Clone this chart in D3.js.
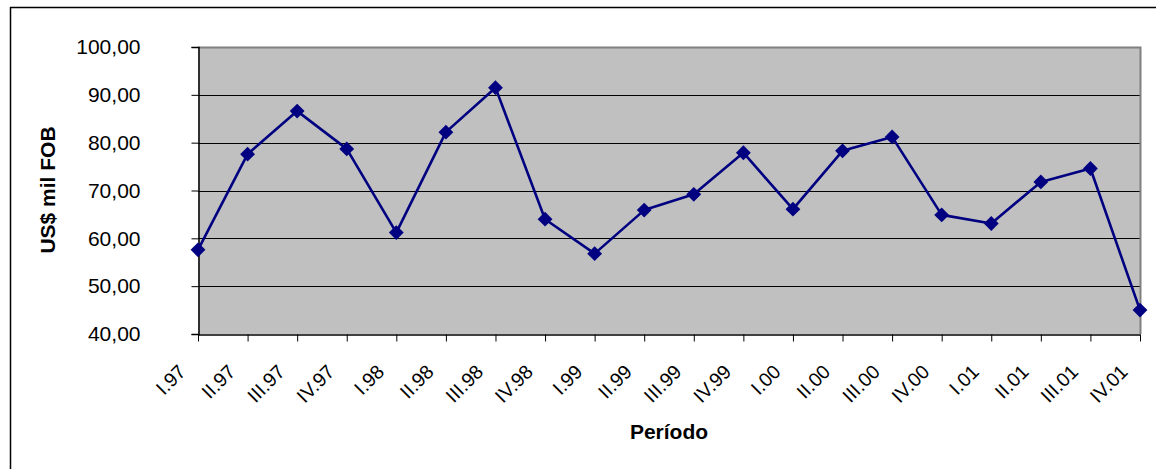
<!DOCTYPE html>
<html>
<head>
<meta charset="utf-8">
<script src="https://cdn.jsdelivr.net/npm/d3@7"></script>
<style>
  html, body { margin: 0; padding: 0; background: #fff; }
  svg { display: block; font-family: "Liberation Sans", Arial, sans-serif; }
</style>
</head>
<body>
<svg id="chart" width="1156" height="469"></svg>
<script>
// Quarterly periods, 1997–2001
const categories = [
  "I.97", "II.97", "III.97", "IV.97",
  "I.98", "II.98", "III.98", "IV.98",
  "I.99", "II.99", "III.99", "IV.99",
  "I.00", "II.00", "III.00", "IV.00",
  "I.01", "II.01", "III.01", "IV.01"
];

// US$ thousand FOB per quarter
const values = [
  57.6, 77.6, 86.6, 78.7,
  61.2, 82.2, 91.5, 64.0,
  56.8, 65.9, 69.2, 77.9,
  66.1, 78.3, 81.2, 64.9,
  63.1, 71.8, 74.6, 45.0
];

const yTicks = [40, 50, 60, 70, 80, 90, 100];
const yTitle = "US$ mil FOB";
const xTitle = "Período";

const svg = d3.select("#chart");
const plot = { left: 198, right: 1140, top: 47, bottom: 334 };

const x = d3.scalePoint()
  .domain(categories)
  .range([plot.left, plot.right]);

const y = d3.scaleLinear()
  .domain([40, 100])
  .range([plot.bottom, plot.top]);

const fmt = v => d3.format(".2f")(v).replace(".", ",");

// Outer chart frame (open on the right and bottom edges)
svg.append("rect")
  .attr("x", 10.5).attr("y", 7.5)
  .attr("width", 1300).attr("height", 600)
  .attr("fill", "none")
  .attr("stroke", "#000")
  .attr("stroke-width", 1.5);

// Plot background
svg.append("rect")
  .attr("x", plot.left).attr("y", plot.top)
  .attr("width", plot.right - plot.left)
  .attr("height", plot.bottom - plot.top)
  .attr("fill", "#c0c0c0");

// Horizontal gridlines
svg.append("g")
  .selectAll("line")
  .data(yTicks.filter(t => t > 40 && t < 100))
  .join("line")
  .attr("x1", plot.left).attr("x2", plot.right)
  .attr("y1", d => Math.round(y(d)) + 0.5)
  .attr("y2", d => Math.round(y(d)) + 0.5)
  .attr("stroke", "#000")
  .attr("stroke-width", 1);

// Gray frame on top and right
svg.append("path")
  .attr("d", `M${plot.left},${plot.top + 0.5}H${plot.right + 0.5}V${plot.bottom}`)
  .attr("fill", "none")
  .attr("stroke", "#808080")
  .attr("stroke-width", 2);

// Y axis
const yAxis = svg.append("g")
  .attr("transform", `translate(${plot.left + 0.5},0)`)
  .call(d3.axisLeft(y).tickValues(yTicks).tickFormat(fmt).tickSize(7).tickPadding(51));
yAxis.select(".domain").attr("stroke", "#000").attr("stroke-width", 1.5);
yAxis.selectAll(".tick line").attr("stroke", "#000");
yAxis.selectAll(".tick text")
  .attr("font-size", 21)
  .attr("fill", "#000")
  .attr("font-family", "Liberation Sans, Arial, sans-serif");

// X axis (ticks from the axis generator, labels drawn slanted below)
const xAxis = svg.append("g")
  .attr("transform", `translate(0,${plot.bottom + 0.5})`)
  .call(d3.axisBottom(x).tickSize(7).tickSizeOuter(0).tickFormat(""));
xAxis.select(".domain").attr("stroke", "#000").attr("stroke-width", 1.5);
xAxis.selectAll(".tick line").attr("stroke", "#000");
xAxis.selectAll(".tick text").remove();

svg.append("g")
  .selectAll("text")
  .data(categories)
  .join("text")
  .attr("transform", d => `translate(${x(d) - 11},${plot.bottom + 39}) rotate(-45)`)
  .attr("text-anchor", "end")
  .attr("font-size", 19.5)
  .attr("fill", "#000")
  .text(d => d);

// Series line
svg.append("path")
  .datum(values)
  .attr("fill", "none")
  .attr("stroke", "#000080")
  .attr("stroke-width", 2.6)
  .attr("stroke-linejoin", "round")
  .attr("d", d3.line()
    .x((d, i) => x(categories[i]))
    .y(d => y(d)));

// Diamond markers
const diamond = d3.symbol().type(d3.symbolSquare).size(110);
svg.append("g")
  .selectAll("path")
  .data(values)
  .join("path")
  .attr("d", diamond)
  .attr("transform", (d, i) => `translate(${x(categories[i])},${y(d)}) rotate(45)`)
  .attr("fill", "#000080");

// Axis titles
svg.append("text")
  .attr("transform", `translate(55,190) rotate(-90)`)
  .attr("text-anchor", "middle")
  .attr("font-size", 21)
  .attr("font-weight", "bold")
  .text(yTitle);

svg.append("text")
  .attr("x", 669)
  .attr("y", 439)
  .attr("text-anchor", "middle")
  .attr("font-size", 21)
  .attr("font-weight", "bold")
  .text(xTitle);
</script>
</body>
</html>
